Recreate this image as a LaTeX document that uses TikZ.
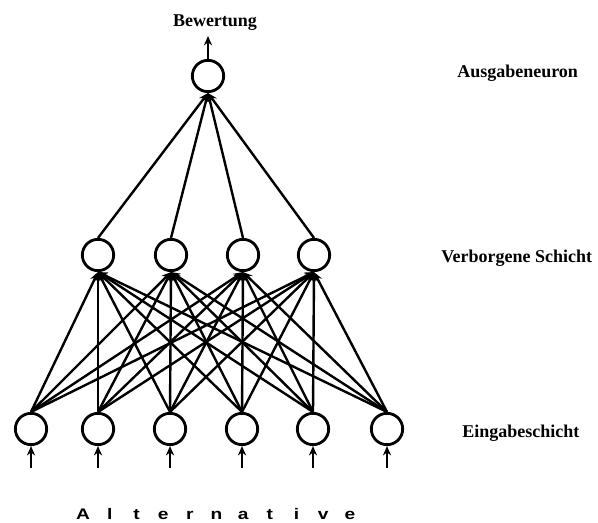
\documentclass[tikz,border=0pt]{standalone}
\usepackage{fontspec}
\setmainfont{Liberation Serif}
\newfontfamily\altfont{Liberation Sans}
\usetikzlibrary{arrows.meta}
\newcommand\spacedletter[1]{\makebox[20pt]{\scalebox{1.25}[1]{#1}}}
\begin{document}
\begin{tikzpicture}[x=0.75pt,y=-0.75pt,
  neuron/.style={circle,draw,line width=2.1pt,minimum size=23.5pt,inner sep=0pt,fill=white},
  conn/.style={line width=1.8pt,-{Stealth[length=7pt,width=6pt]}},
  layerlabel/.style={font=\bfseries\fontsize{13.5}{16}\selectfont,anchor=base west,inner sep=0pt}]
\useasboundingbox (0,0) rectangle (598,523);

% output neuron
\node[neuron] (o) at (208,76) {};

% hidden layer
\foreach \x [count=\i] in {98,171,243,314}
  \node[neuron] (h\i) at (\x,255) {};

% input layer
\foreach \x [count=\i] in {31,98,170,242,313,387} {
  \node[neuron] (in\i) at (\x,429) {};
  \coordinate (src\i) at (\x,468);
}
\coordinate (res) at (208,36);

% connections input -> hidden
\foreach \i in {1,...,6}
  \foreach \j in {1,...,4}
    \draw[conn] (in\i.north) -- (h\j.south);

% connections hidden -> output
\foreach \j in {1,...,4}
  \draw[conn] (h\j.north) -- (o.south);

% external inputs and result
\foreach \i in {1,...,6}
  \draw[conn] (src\i) -- (in\i.south);
\draw[conn] (o.north) -- (res);

% labels
\node[font=\bfseries\fontsize{13.5}{16}\selectfont,anchor=base,inner sep=0pt] (bew) at (215,27) {Bewertung};
\node[layerlabel] (lout) at (457,78) {Ausgabeneuron};
\node[layerlabel] (lhid) at (441,263) {Verborgene Schicht};
\node[layerlabel] (lin) at (462,437) {Eingabeschicht};
\node[font=\altfont\bfseries\fontsize{11.5}{14}\selectfont,anchor=base,inner sep=0pt] (alt) at (216.5,519)
  {\spacedletter{A}\spacedletter{l}\spacedletter{t}\spacedletter{e}\spacedletter{r}\spacedletter{n}\spacedletter{a}\spacedletter{t}\spacedletter{i}\spacedletter{v}\spacedletter{e}};
\end{tikzpicture}
\end{document}
